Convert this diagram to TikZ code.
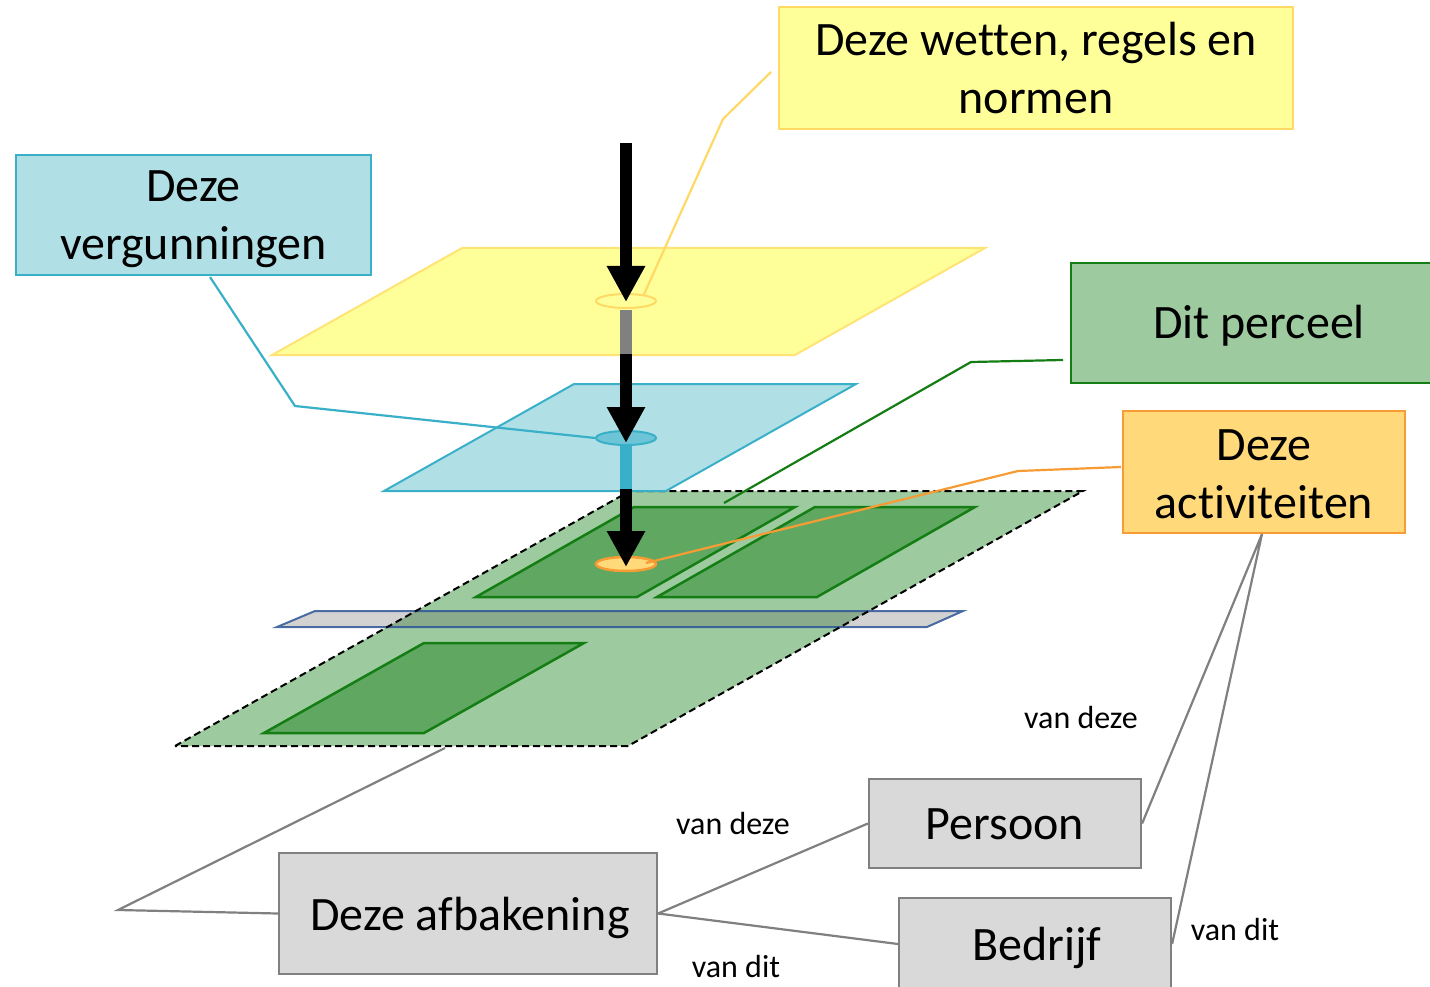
\documentclass[tikz,border=0pt]{standalone}
\usepackage{fontspec}
\setmainfont[Ligatures=NoCommon]{Carlito}
\usetikzlibrary{arrows.meta,shapes.geometric}
\definecolor{ylfill}{HTML}{FFFF99}
\definecolor{ylline}{HTML}{FFD966}
\definecolor{blfill}{HTML}{B0E0E6}
\definecolor{blline}{HTML}{3AB0C8}
\definecolor{blell}{HTML}{6CC4D6}
\definecolor{grfill}{HTML}{9DCB9F}
\definecolor{grline}{HTML}{147E14}
\definecolor{grdark}{HTML}{60A862}
\definecolor{orfill}{HTML}{FFD97A}
\definecolor{orline}{HTML}{F79B35}
\definecolor{gyfill}{HTML}{D9D9D9}
\definecolor{gyline}{HTML}{808080}
\definecolor{stripfill}{HTML}{5A5A5A}
\definecolor{stripline}{HTML}{2F5597}
\tikzset{
  bigtext/.style={font=\fontsize{48}{58}\selectfont, align=center, inner sep=0pt},
  smalltext/.style={font=\fontsize{32}{38}\selectfont, inner sep=1pt},
  labelbox/.style={draw, line width=2.2pt, inner sep=0pt},
  graybox/.style={labelbox, fill=gyfill, draw=gyline},
  bigarrow/.style={line width=12pt, -{Triangle[length=36pt,width=36pt]}},
  callout/.style={line width=2.2pt},
  hole/.style={ellipse, minimum width=60pt, minimum height=14pt, inner sep=0pt, line width=2pt}
}
\begin{document}
\begin{tikzpicture}[x=1pt,y=-1pt]
\useasboundingbox (0,0) rectangle (1430,987);
\clip (0,0) rectangle (1430,987);

% green plane (bottom layer)
\fill[grfill] (175,746) -- (630,491) -- (1083,491) -- (628,746) -- cycle;
% strip
\path[fill=stripfill, fill opacity=0.27, draw=stripline, draw opacity=0.85, line width=2pt]
  (277,627) -- (315,611) -- (963,611) -- (927,627) -- cycle;
\draw[black, line width=2pt, dash pattern=on 7pt off 4pt]
  (175,746) -- (630,491) -- (1083,491) -- (628,746) -- cycle;
% parcels
\draw[fill=grdark, draw=grline, line width=2.5pt] (476,597) -- (634,507) -- (795,507) -- (637,597) -- cycle;
\draw[fill=grdark, draw=grline, line width=2.5pt] (657,597) -- (815,507) -- (975,507) -- (817,597) -- cycle;
\draw[fill=grdark, draw=grline, line width=2.5pt] (264,733) -- (424,643) -- (584,643) -- (424,733) -- cycle;

% blue plane
\draw[fill=blfill, draw=blline, line width=2pt] (384,491) -- (574,384) -- (856,384) -- (666,491) -- cycle;
% yellow plane
\draw[fill=ylfill, draw=ylline!70!ylfill, line width=2pt] (272,355) -- (462,248) -- (985,248) -- (795,355) -- cycle;

% columns between layers
\fill[gyline] (620,310) rectangle (632,354);
\fill[blline] (620,444) rectangle (632,490);

% holes
\node[hole, draw=ylline, fill=ylfill] (e1) at (626,301) {};
\node[hole, draw=blline, fill=blell] (e2) at (626,438) {};
\node[hole, draw=orline, fill=orfill, line width=2.5pt] (e3) at (626,564) {};

% arrows
\coordinate (a1s) at (626,143);
\coordinate (a1e) at (626,302);
\coordinate (a2s) at (626,354);
\coordinate (a2e) at (626,443);
\coordinate (a3s) at (626,489);
\coordinate (a3e) at (626,567);
\draw[bigarrow] (a1s) -- (a1e);
\draw[bigarrow] (a2s) -- (a2e);
\draw[bigarrow] (a3s) -- (a3e);

% label boxes
\node[labelbox, fill=ylfill, draw=ylline, minimum width=514pt, minimum height=122pt] (wet) at (1036,68) {};
\node[bigtext] (wett) at (1036,68) {Deze wetten, regels en\\normen};
\node[labelbox, fill=blfill, draw=blline, minimum width=355pt, minimum height=120pt] (verg) at (193.5,215) {};
\node[bigtext] (vergt) at (193.5,219) {Deze\\vergunningen};
\node[labelbox, fill=grfill, draw=grline, minimum width=362pt, minimum height=120pt] (perc) at (1252,323) {};
\node[bigtext] (perct) at (1259,326) {Dit perceel};
\node[labelbox, fill=orfill, draw=orline, minimum width=282pt, minimum height=122pt] (act) at (1264,472) {};
\node[bigtext] (actt) at (1264,474) {Deze\\activiteiten};
\node[graybox, minimum width=272pt, minimum height=89pt] (pers) at (1005,823.5) {};
\node[bigtext] (perst) at (1005,824) {Persoon};
\node[graybox, minimum width=272pt, minimum height=94pt] (bedr) at (1035,945) {};
\node[bigtext] (bedrt) at (1037,948) {Bedrijf};
\node[graybox, minimum width=378pt, minimum height=121pt] (afb) at (468,913.5) {};
\node[bigtext] (afbt) at (470,918) {Deze afbakening};

% callouts
\coordinate (yb) at (723,119);
\coordinate (ye) at (771,72);
\draw[callout, ylline] (e1.20) -- (yb) -- (ye);
\coordinate (bs) at (210,277);
\coordinate (bb) at (295,406);
\draw[callout, blline] (bs) -- (bb) -- (e2.west);
\coordinate (gs) at (1063,360);
\coordinate (gb) at (971,362);
\coordinate (gt) at (724,503);
\draw[callout, grline] (gs) -- (gb) -- (gt);
\coordinate (os) at (1121,467);
\coordinate (ob) at (1018,471);
\coordinate (ot) at (646,563);
\draw[callout, orline] (os) -- (ob) -- (ot);
\coordinate (ab) at (118,910);
\coordinate (at) at (445,748);
\draw[callout, gyline] (afb.west) -- (ab) -- (at);
\draw[callout, gyline] (afb.east) -- (pers.west);
\draw[callout, gyline] (afb.east) -- (bedr.west |- 0,944);
\coordinate (actb) at (1262,534);
\draw[callout, gyline] (pers.east) -- (actb) -- (bedr.east |- 0,944);

% relation labels
\node[smalltext] (l1) at (1081,718) {van deze};
\node[smalltext] (l2) at (733,824) {van deze};
\node[smalltext] (l3) at (736,966) {van dit};
\node[smalltext] (l4) at (1235,930) {van dit};
\end{tikzpicture}
\end{document}
